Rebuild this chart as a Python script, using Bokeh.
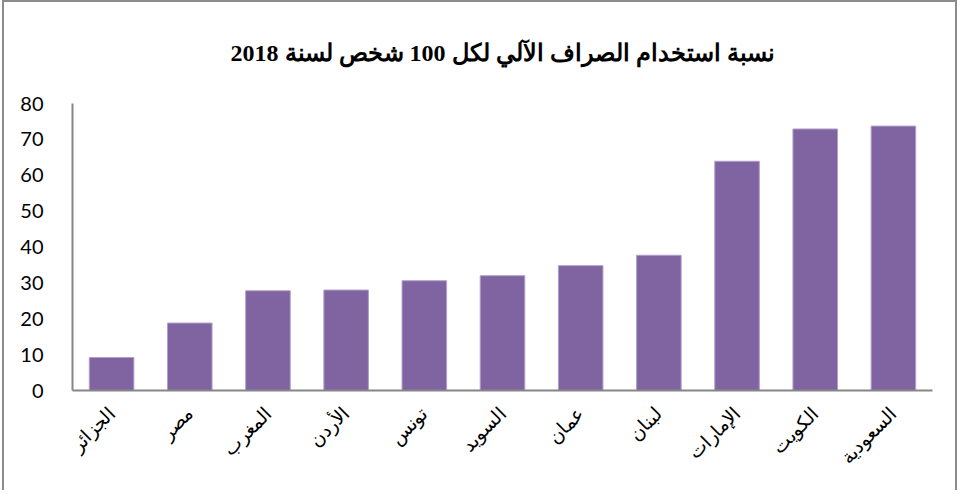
import math
from bokeh.plotting import figure
from bokeh.models import ColumnDataSource, FixedTicker, Range1d, FactorRange
from bokeh.embed import file_html
from bokeh.resources import INLINE

countries = ["الجزائر", "مصر", "المغرب", "الأردن", "تونس", "السويد",
             "عمان", "لبنان", "الإمارات", "الكويت", "السعودية"]
values = [9.2, 18.8, 27.8, 28.0, 30.6, 32.0, 34.8, 37.7, 63.9, 72.9, 73.7]
y_ticks = [0, 10, 20, 30, 40, 50, 60, 70, 80]
title_text = "نسبة استخدام الصراف الآلي لكل 100 شخص لسنة 2018"

source = ColumnDataSource(data=dict(country=countries, value=values))

p = figure(
    x_range=FactorRange(*countries),
    y_range=Range1d(0, 80),
    width=955, height=490,
    output_backend="svg",
    toolbar_location=None,
    min_border_left=68, min_border_right=27,
    min_border_top=101, min_border_bottom=102,
)
p.styles = {"border-left": "2px solid #8c8c8c", "border-top": "2px solid #8c8c8c",
            "border-right": "2px solid #8c8c8c", "margin-left": "2px"}

p.vbar(x="country", top="value", width=0.57, source=source,
       fill_color="#8064A2", line_color="#b09fcb", line_width=1)

p.title.text = title_text
p.title.align = "center"
p.title.vertical_align = "top"
p.title.text_font = "Liberation Serif"
p.title.text_font_style = "bold"
p.title.text_font_size = "24px"
p.title.text_color = "#000000"
p.title.standoff = 72

p.outline_line_color = None
p.xgrid.grid_line_color = None
p.ygrid.grid_line_color = None

p.yaxis.ticker = FixedTicker(ticks=y_ticks)
p.yaxis.axis_line_color = "#868686"
p.yaxis.axis_line_width = 2
p.yaxis.major_tick_line_color = None
p.yaxis.minor_tick_line_color = None
p.yaxis.major_label_text_font = "Lato"
p.yaxis.major_label_text_font_size = "20px"
p.yaxis.major_label_text_color = "#000000"
p.yaxis.major_label_standoff = 23

p.xaxis.axis_line_color = "#868686"
p.xaxis.axis_line_width = 2
p.xaxis.major_tick_line_color = None
p.xaxis.minor_tick_line_color = None
p.xaxis.major_label_orientation = math.pi / 4
p.xaxis.major_label_text_font = "Liberation Serif"
p.xaxis.major_label_text_font_size = "19px"
p.xaxis.major_label_text_color = "#000000"
p.xaxis.major_label_standoff = 14

open("out.html", "w").write(file_html(p, INLINE))
